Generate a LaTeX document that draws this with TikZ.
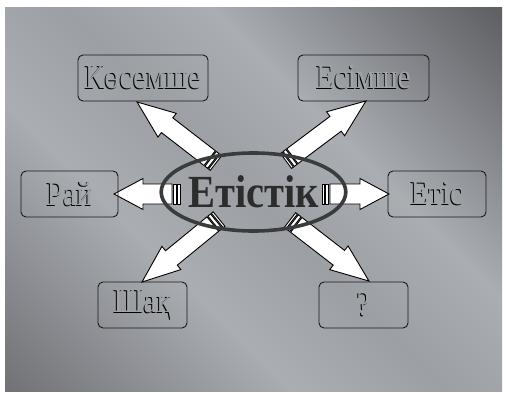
\documentclass[tikz,border=0pt]{standalone}
\usepackage{fontspec}
\setmainfont{Liberation Serif}
\usetikzlibrary{shapes.geometric}
\definecolor{bgdarkA}{HTML}{717377}
\definecolor{bgdarkB}{HTML}{5E6064}
\definecolor{bglight}{HTML}{AAADB2}
\definecolor{bgmid}{HTML}{9C9FA4}
\definecolor{txtgray}{HTML}{A0A3A8}
\definecolor{ringgray}{HTML}{3A3B3D}
\definecolor{maintxt}{HTML}{2C2C2D}
\pgfdeclarehorizontalshading{metal}{100bp}{color(0bp)=(bgdarkA); color(15bp)=(bgdarkA); color(38bp)=(bglight); color(50bp)=(bgmid); color(62bp)=(bglight); color(85bp)=(bgdarkB); color(100bp)=(bgdarkB)}
\newcommand\engr[1]{\scalebox{0.85}[1]{\rlap{\kern-1.1pt\raisebox{-1.1pt}{\color{black}#1}}{\color{txtgray}#1}}}
\newcommand\stripearrow[6]{%
  \begin{scope}[shift={(#1)},rotate=#2]
    \draw[arrowbody] (0,-#6) rectangle (2.2,#6);
    \draw[arrowbody] (3.4,-#6) rectangle (6.8,#6);
    \draw[arrowbody] (8,-#6) -- ({#3-#4},-#6) -- ({#3-#4},-#5) -- (#3,0)
      -- ({#3-#4},#5) -- ({#3-#4},#6) -- (8,#6) -- cycle;
  \end{scope}}
\begin{document}
\begin{tikzpicture}[x=1pt,y=1pt,
  box/.style={draw=black!90, line width=0.9pt, rounded corners=5pt,
    minimum height=46pt, inner sep=0pt,
    font=\fontsize{35}{40}\selectfont},
  arrowbody/.style={draw=black, fill=white, line width=0.9pt, line join=miter},
  ring/.style={draw=ringgray, line width=3.6pt, ellipse, minimum width=138pt,
    minimum height=78pt, inner sep=0pt,
    font=\bfseries\fontsize{46}{50}\selectfont, text=maintxt}]
\useasboundingbox (0,0) rectangle (506,-393);
\fill[white] (0,0) rectangle (506,-393);
\fill[shading=metal, shading angle=45] (5,-8) rectangle (502,-391);

% arrow tails (near the ellipse)
\coordinate (tUL) at (216,-163);
\coordinate (tUR) at (286,-161);
\coordinate (tLL) at (219,-219);
\coordinate (tLR) at (290,-220);
\coordinate (tL) at (180,-194);
\coordinate (tR) at (322,-194);

\stripearrow{tUL}{142.3}{99.8}{38}{15}{9.3}
\stripearrow{tUR}{36.9}{100}{38}{15}{9.3}
\stripearrow{tLL}{219.3}{99.5}{38}{15}{9.3}
\stripearrow{tLR}{-37.7}{99.8}{38}{15}{9.3}
\stripearrow{tL}{180}{66}{29}{15.5}{10}
\stripearrow{tR}{0}{67}{29}{15.5}{10}

\node[ring] (verb) at (253.5,-192) {\scalebox{0.88}[1]{Етістік}};

\node[box, minimum width=130pt] (kos) at (143,-78) {\engr{Көсемше}};
\node[box, minimum width=131pt] (esim) at (363.5,-78) {\engr{Есімше}};
\node[box, minimum width=97pt] (rai) at (69.5,-194) {\engr{Рай}};
\node[box, minimum width=98pt] (etis) at (437,-194) {\engr{Етіс}};
\node[box, minimum width=89pt] (shaq) at (142.5,-305) {\engr{Шақ}};
\node[box, minimum width=89pt] (q) at (363.5,-305) {\engr{?}};
\end{tikzpicture}
\end{document}
